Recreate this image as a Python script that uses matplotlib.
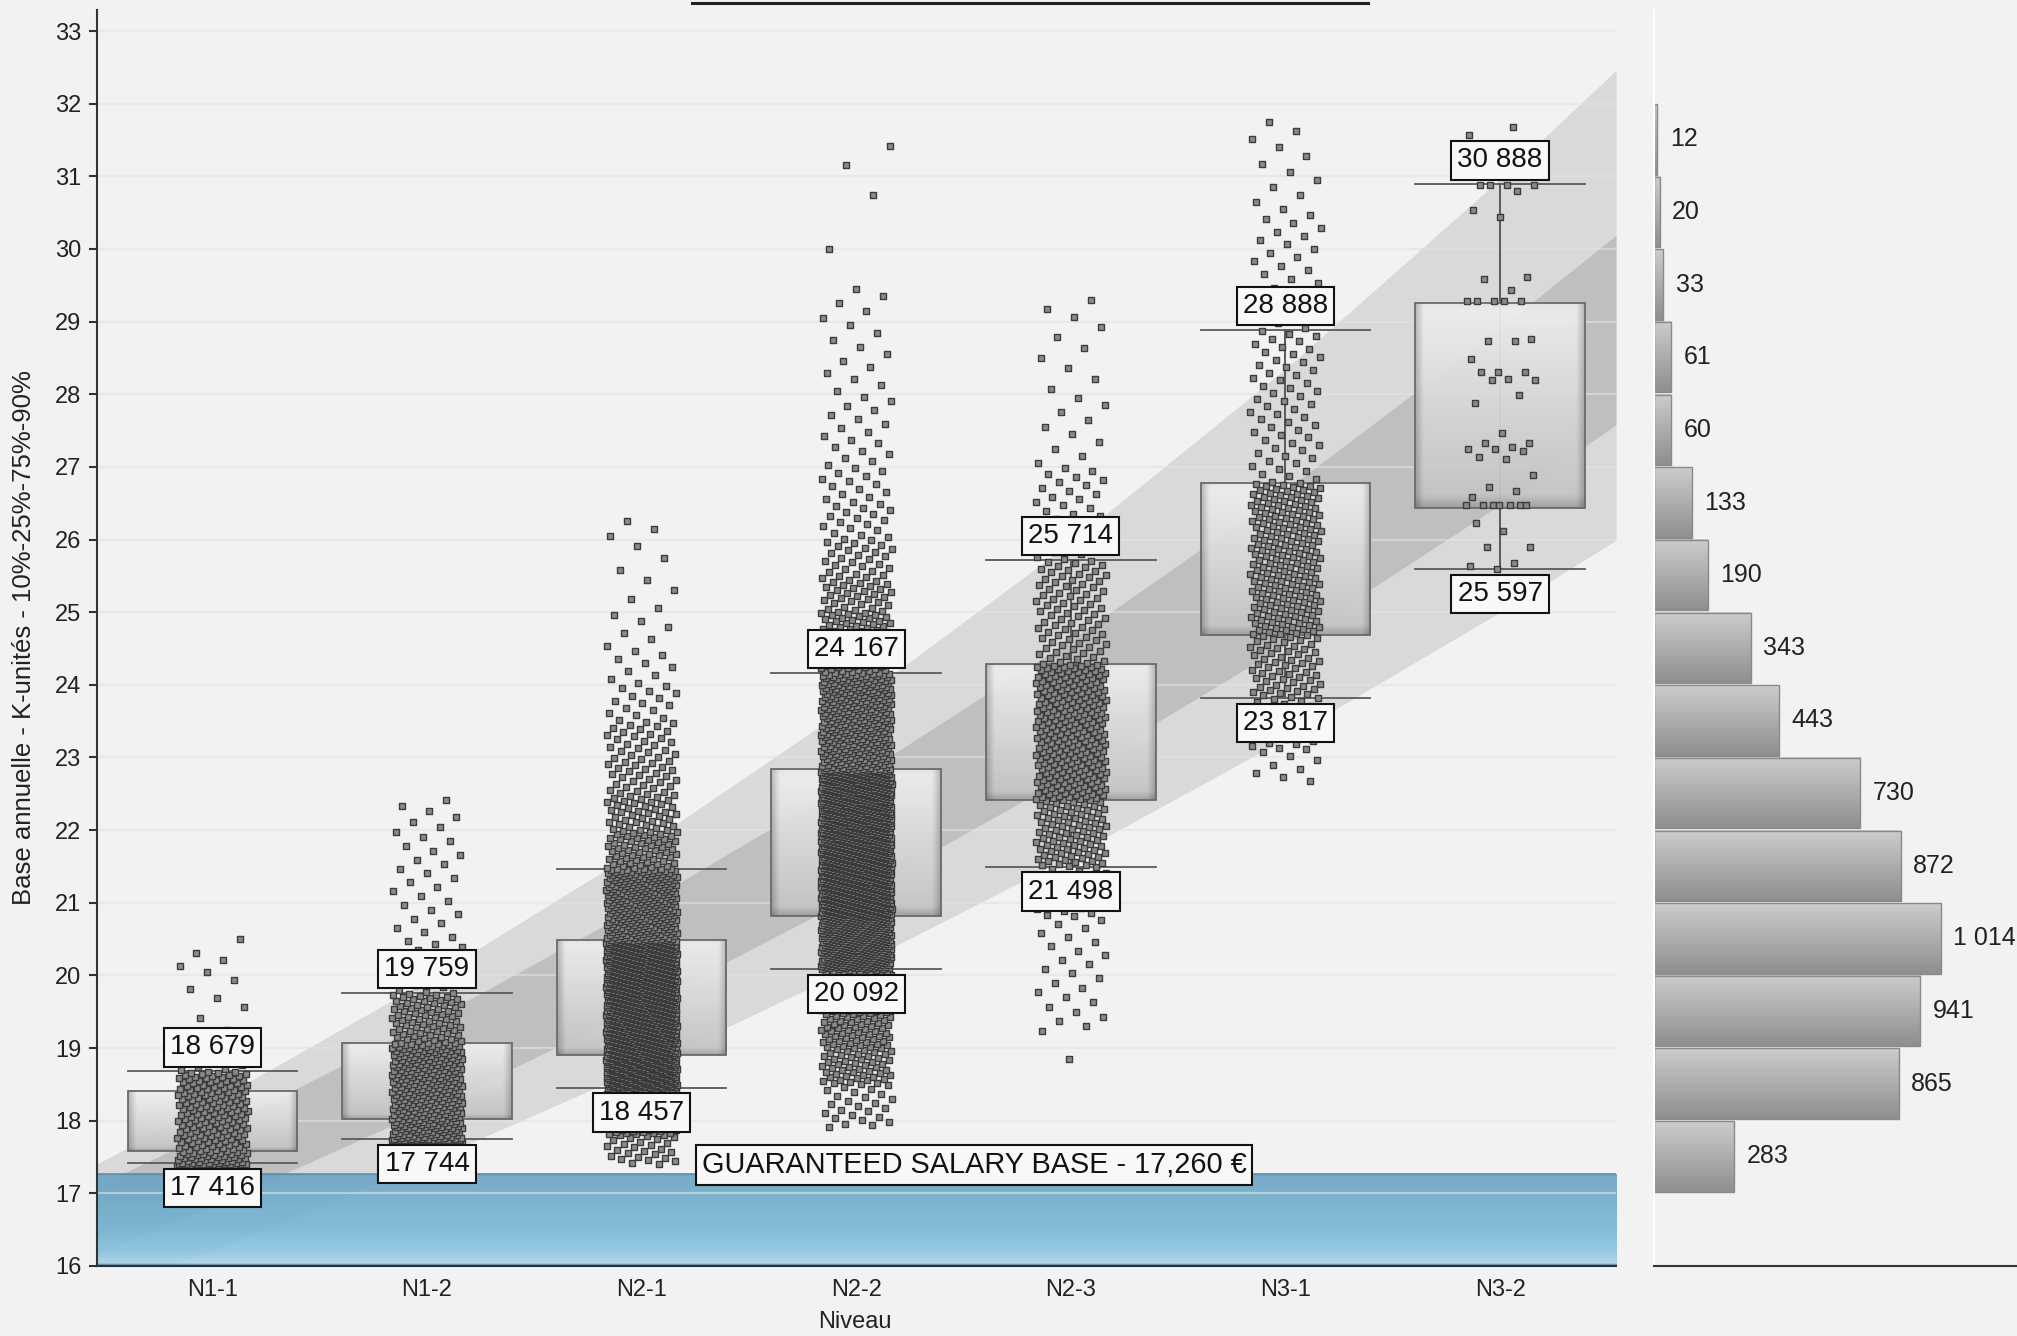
import numpy as np
import matplotlib
matplotlib.use("Agg")
import matplotlib.pyplot as plt
from matplotlib.patches import Rectangle
from matplotlib.lines import Line2D

plt.rcParams['font.family'] = ['Liberation Sans', 'DejaVu Sans']

# ---------------- data ----------------
levels = ["N1-1", "N1-2", "N2-1", "N2-2", "N2-3", "N3-1", "N3-2"]
p10 = [17.416, 17.744, 18.457, 20.092, 21.498, 23.817, 25.597]
q1 = [17.58, 18.02, 18.90, 20.82, 22.41, 24.68, 26.43]
q3 = [18.41, 19.07, 20.49, 22.84, 24.29, 26.78, 29.26]
p90 = [18.679, 19.759, 21.47, 24.167, 25.714, 28.888, 30.888]
show_top_label = [True, True, False, True, True, True, True]

guaranteed_base = 17.26

# salary policy corridor (K) sampled at the level positions
band_x = [-0.54, 0, 1, 2, 3, 4, 5, 6, 6.54]
outer_hi = [17.40, 18.25, 19.93, 21.76, 23.77, 25.96, 28.35, 30.96, 32.46]
inner_hi = [17.10, 17.86, 19.35, 20.97, 22.72, 24.62, 26.68, 28.91, 30.19]
inner_lo = [16.16, 16.83, 18.15, 19.58, 21.11, 22.77, 24.55, 26.48, 27.58]
outer_lo = [15.60, 16.22, 17.43, 18.73, 20.13, 21.64, 23.26, 25.00, 25.99]

# headcount per 1K salary band (right panel)
hist_lo = [17, 18, 19, 20, 21, 22, 23, 24, 25, 26, 27, 28, 29, 30, 31]
hist_counts = [283, 865, 941, 1014, 872, 730, 443, 343, 190, 133, 60, 61, 33, 20, 12]

# individual salaries per level: headcount between successive salary edges
n11_edges = [17.38, 17.416, 17.58, 18.0, 18.41, 18.679, 19.0, 19.5, 20.0, 20.35, 20.65]
n11_counts = [25, 37, 63, 62, 38, 13, 3, 4, 4, 1]

n12_edges = [17.70, 17.744, 18.02, 18.5, 19.07, 19.759, 20.0, 20.5, 21.0, 21.5, 22.0, 22.45]
n12_counts = [50, 75, 114, 136, 75, 8, 12, 8, 8, 8, 6]

n21_edges = [17.40, 17.80, 18.20, 18.457, 18.90, 19.70, 20.49, 21.47, 22.0, 22.5,
             23.0, 23.5, 24.0, 24.5, 25.0, 25.5, 26.0, 26.3]
n21_counts = [25, 70, 100, 292, 488, 487, 293, 60, 40, 30, 25, 15, 9, 6, 4, 3, 3]

n22_edges = [17.9, 18.5, 19.0, 19.5, 20.092, 20.82, 21.8, 22.84, 24.167, 24.6, 25.0,
             25.5, 26.0, 26.5, 27.0, 27.5, 28.0, 28.5, 29.0, 29.5]
n22_counts = [25, 50, 60, 95, 345, 575, 575, 345, 60, 40, 35, 25, 18, 14, 10, 8, 6, 5, 5]
n22_extra = [30.0, 30.75, 31.15, 31.42]

n23_edges = [19.2, 20.0, 20.8, 21.498, 22.41, 23.35, 24.29, 25.714, 26.3, 27.0, 28.0, 29.0, 29.35]
n23_counts = [12, 13, 29, 83, 137, 138, 82, 17, 18, 10, 7, 3]
n23_extra = [18.85]

n31_edges = [22.65, 23.1, 23.817, 24.68, 25.73, 26.78, 28.888, 29.5, 29.8, 30.5, 31.0, 31.8]
n31_counts = [8, 31, 58, 98, 97, 59, 10, 5, 12, 5, 7]

n32_values = [31.68, 31.57, 31.15, 31.05, 30.88, 30.88, 30.88, 30.88, 30.80, 30.53, 30.44,
              29.62, 29.59, 29.43, 29.29, 29.29, 29.29, 29.29, 29.29, 28.76, 28.74, 28.74,
              28.49, 28.30, 28.30, 28.30, 28.21, 28.19, 28.19, 27.99, 27.88, 27.47, 27.33,
              27.33, 27.28, 27.25, 27.25, 27.22, 27.14, 27.11, 26.89, 26.73, 26.67, 26.59,
              26.48, 26.48, 26.48, 26.48, 26.48, 26.48, 26.48, 26.23, 26.12, 25.90, 25.90,
              25.68, 25.63, 25.60, 25.40, 25.30]


def expand(edges, counts, extra=()):
    vals = []
    for lo, hi, n in zip(edges[:-1], edges[1:], counts):
        vals.extend(lo + (np.arange(n) + 0.5) / n * (hi - lo))
    vals.extend(extra)
    return np.sort(np.array(vals))


salaries = [
    expand(n11_edges, n11_counts),
    expand(n12_edges, n12_counts),
    expand(n21_edges, n21_counts),
    expand(n22_edges, n22_counts, n22_extra),
    expand(n23_edges, n23_counts, n23_extra),
    expand(n31_edges, n31_counts),
    np.sort(np.array(n32_values)),
]


def k_label(v):
    return f"{int(round(v * 1000)):,}".replace(",", " ")


def spread_offsets(n, seed):
    # golden-ratio spread of the points across the column width, in [-0.5, 0.5)
    k = np.arange(n)
    return ((k * 0.6180339887 + seed) % 1.0) - 0.5


# ---------------- figure ----------------
W, H = 2017, 1336
BG = '#f2f2f2'
fig = plt.figure(figsize=(W / 100, H / 100), dpi=100, facecolor=BG)
ax_bottom, ax_top = 1266, 10
ax = fig.add_axes([96.5 / W, (H - ax_bottom) / H, (1616 - 96.5) / W, (ax_bottom - ax_top) / H])
ax2 = fig.add_axes([1654 / W, (H - ax_bottom) / H, (W - 1654) / W, (ax_bottom - ax_top) / H])
for a in (ax, ax2):
    a.set_facecolor(BG)

XMIN, XMAX = -0.54, 6.54
YMIN, YMAX = 16.0, 33.29

# corridor bands
ax.fill_between(band_x, outer_lo, outer_hi, color='#d9d9d9', lw=0, zorder=0.5)
ax.fill_between(band_x, inner_lo, inner_hi, color='#bfbfbf', lw=0, zorder=0.6)

# guaranteed base strip (blue gradient)
rows = 300
f = np.linspace(0, 1, rows)
stops = [0.0, 0.02, 0.3, 0.6, 0.85, 0.97, 1.0]
rr = [92, 104, 110, 116, 140, 168, 40]
gg = [148, 163, 171, 181, 196, 212, 62]
bb = [180, 195, 203, 213, 225, 233, 84]
blue = np.zeros((rows, 2, 4))
blue[:, :, 0] = np.interp(f, stops, rr)[:, None] / 255
blue[:, :, 1] = np.interp(f, stops, gg)[:, None] / 255
blue[:, :, 2] = np.interp(f, stops, bb)[:, None] / 255
blue[:, :, 3] = 0.88
ax.imshow(blue, extent=[XMIN, XMAX, YMIN, guaranteed_base], aspect='auto',
          interpolation='bilinear', zorder=1.0)
ax.plot([XMIN, XMAX], [guaranteed_base, guaranteed_base], color='#5a8fae', lw=1.2, zorder=1.05)

# grid
ax.set_axisbelow('line')
ax.yaxis.grid(True, color='#e2e2e2', lw=1.6, alpha=0.6)
ax.xaxis.grid(False)


def box_image():
    h, w = 80, 80
    t = np.linspace(0, 1, h)[:, None]
    u = np.linspace(0, 1, w)[None, :]
    base = 0.94 - 0.18 * t
    side = np.clip(np.minimum(u, 1 - u) / 0.045, 0, 1)
    bottom = np.clip((1 - t) / 0.06, 0, 1)
    top = np.clip(t / 0.04, 0, 1)
    val = base * (0.78 + 0.22 * side) * (0.82 + 0.18 * bottom) * (0.96 + 0.04 * top)
    img = np.zeros((h, w, 4))
    img[..., 0] = val
    img[..., 1] = val
    img[..., 2] = val
    img[..., 3] = 0.93
    return img


BOX_W = 0.79
JIT = 0.33
bimg = box_image()
for i, lev in enumerate(levels):
    # whisker
    ax.plot([i, i], [p10[i], p90[i]], color='#5a5a5a', lw=1.4, zorder=2.0)
    # box
    ax.imshow(bimg, extent=[i - BOX_W / 2, i + BOX_W / 2, q1[i], q3[i]], aspect='auto',
              interpolation='bilinear', zorder=2.5)
    ax.add_patch(Rectangle((i - BOX_W / 2, q1[i]), BOX_W, q3[i] - q1[i], fill=False,
                           ec='#6a6a6a', lw=1.3, zorder=2.6))
    # caps
    for v in (p10[i], p90[i]):
        ax.plot([i - BOX_W / 2, i + BOX_W / 2], [v, v], color='#5a5a5a', lw=1.3, zorder=3.0)
    # individual salaries
    vals = salaries[i]
    xs = i + spread_offsets(len(vals), 0.37 * i) * JIT
    ax.scatter(xs, vals, s=18, marker='s', facecolor='#8a8a8a', edgecolor='#3c3c3c',
               linewidths=1.0, zorder=4)

    lab = dict(ha='center', fontsize=20, color='#111111', zorder=6,
               textcoords='offset pixels',
               bbox=dict(boxstyle='square,pad=0.22', fc='#f8f8f8', ec='#111111', lw=1.5))
    if show_top_label[i]:
        ax.annotate(k_label(p90[i]), (i, p90[i]), xytext=(0, 11), va='bottom', **lab)
    ax.annotate(k_label(p10[i]), (i, p10[i]), xytext=(0, -12), va='top', **lab)

ax.text(3.55, 17.39, "GUARANTEED SALARY BASE - 17,260 €",
        ha='center', va='center', fontsize=20.8, color='#111111', zorder=6,
        bbox=dict(boxstyle='square,pad=0.2', fc='#f8f8f8', ec='#111111', lw=1.5))

ax.set_xlim(XMIN, XMAX)
ax.set_ylim(YMIN, YMAX)
ax.set_xticks(range(len(levels)))
ax.set_xticklabels(levels)
ax.set_yticks(range(16, 34))
ax.tick_params(axis='x', length=0, pad=9, labelsize=17, labelcolor='#222222')
ax.tick_params(axis='y', length=6, width=1.5, color='#333333', pad=5, labelsize=17,
               labelcolor='#222222')
for s in ('top', 'right'):
    ax.spines[s].set_visible(False)
ax.spines['left'].set_color('#333333')
ax.spines['left'].set_linewidth(1.5)
ax.spines['bottom'].set_color('#1e3446')
ax.spines['bottom'].set_linewidth(1.5)

ax.set_xlabel("Niveau", fontsize=17, color='#222222')
ax.xaxis.set_label_coords(0.499, -0.036)
ax.set_ylabel("Base annuelle - K-unités - 10%-25%-75%-90%", fontsize=18.5, color='#222222')
ax.yaxis.set_label_coords(-0.040, 0.5)


# ---------------- right panel: headcount ----------------
def bar_image():
    h, w = 60, 120
    t = np.linspace(0, 1, h)[:, None]
    u = np.linspace(0, 1, w)[None, :]
    val = 0.80 - 0.24 * t + 0 * u
    img = np.zeros((h, w, 3))
    img[..., 0] = val
    img[..., 1] = val
    img[..., 2] = val
    return img


himg = bar_image()
for lo, c in zip(hist_lo, hist_counts):
    y0, y1 = lo + 0.025, lo + 0.995
    ax2.imshow(himg, extent=[0, c, y0, y1], aspect='auto', interpolation='bilinear', zorder=2)
    ax2.add_patch(Rectangle((0, y0), c, y1 - y0, fill=False, ec='#8a8a8a', lw=1.0, zorder=2.1))
    ax2.annotate(k_label(c / 1000), (c, (y0 + y1) / 2), xytext=(9, 0), textcoords='offset points',
                 ha='left', va='center', fontsize=18, color='#222222')

ax2.set_xlim(0, 1284)
ax2.set_ylim(YMIN, YMAX)
ax2.set_xticks([])
ax2.set_yticks([])
for s in ('top', 'right'):
    ax2.spines[s].set_visible(False)
ax2.spines['left'].set_color('#ffffff')
ax2.spines['left'].set_linewidth(1.5)
ax2.spines['bottom'].set_color('#333333')
ax2.spines['bottom'].set_linewidth(1.5)

# title underline at the top edge
fig.add_artist(Line2D([692 / W, 1368 / W], [1 - 3 / H, 1 - 3 / H], color='#222222', lw=2.2))

fig.savefig("out.png", dpi=100, facecolor=BG)
